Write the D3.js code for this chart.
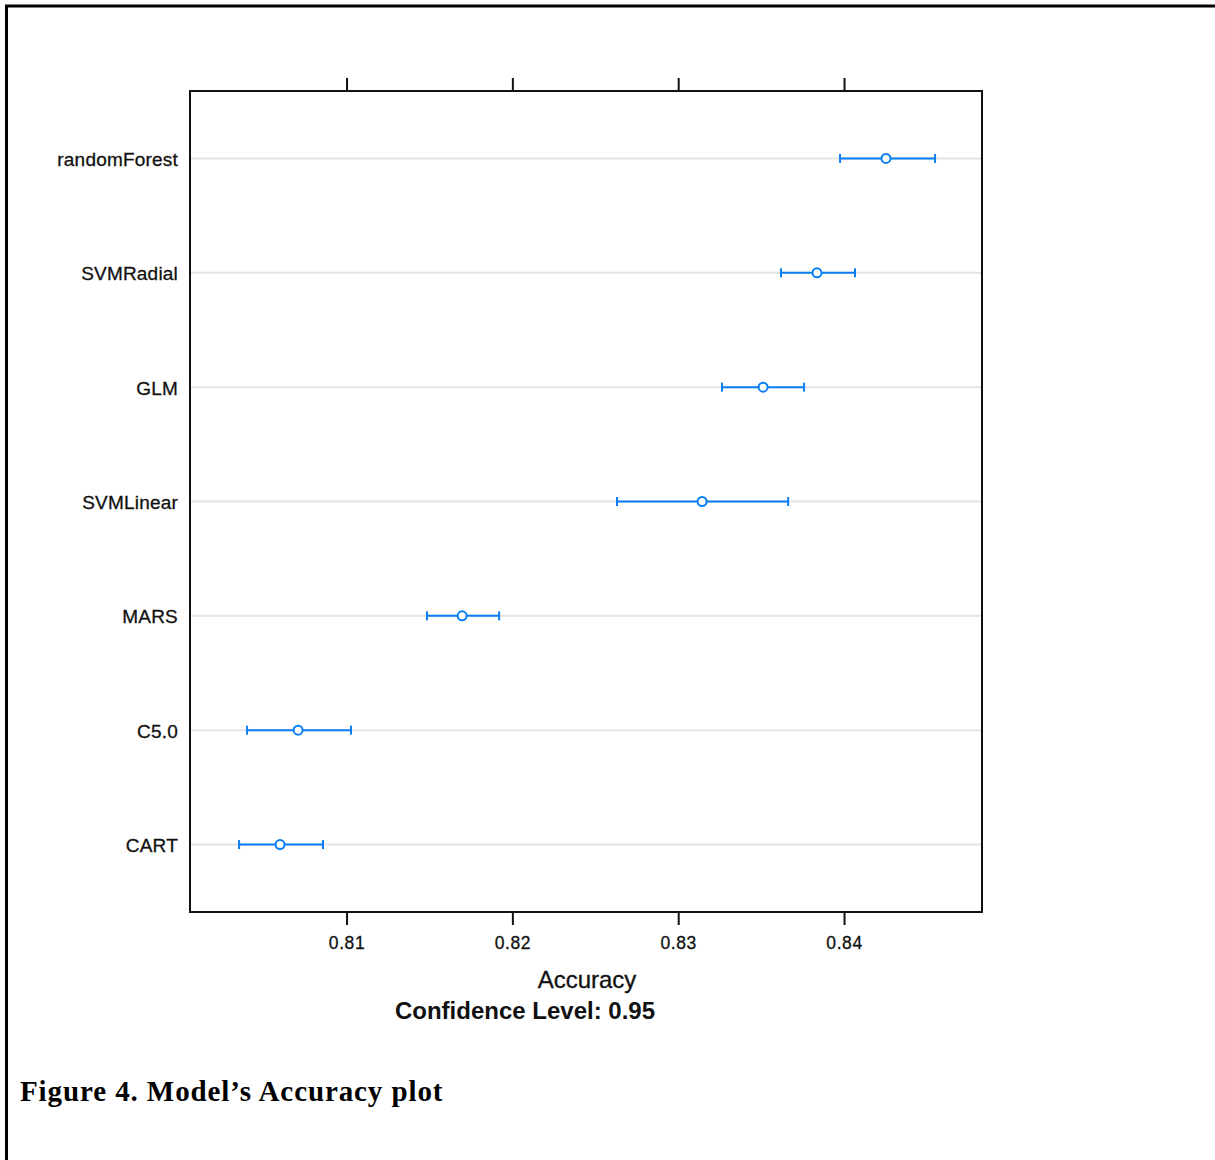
<!DOCTYPE html>
<html>
<head>
<meta charset="utf-8">
<script src="https://cdn.jsdelivr.net/npm/d3@7"></script>
<style>
    body { margin: 0; background: #fff; }
    svg { display: block; }
</style>
</head>
<body>
<svg id="chart" width="1215" height="1160"></svg>
<script>
// model names, top to bottom
const models = ["randomForest", "SVMRadial", "GLM", "SVMLinear", "MARS", "C5.0", "CART"];
// accuracy estimates and 95% confidence bounds
const accMean = [0.84253, 0.83837, 0.83512, 0.83144, 0.81697, 0.80708, 0.80599];
const accLower = [0.83976, 0.83620, 0.83264, 0.82631, 0.81485, 0.80400, 0.80352];
const accUpper = [0.84549, 0.84066, 0.83759, 0.83663, 0.81920, 0.81027, 0.80858];
const xTicks = [0.81, 0.82, 0.83, 0.84];

const svg = d3.select("#chart");
const blue = "#0a7ff5";
const sans = "Liberation Sans, Arial, sans-serif";

// outer figure frame (top + left only)
svg.append("line").attr("x1", 5).attr("x2", 1215).attr("y1", 6).attr("y2", 6)
    .attr("stroke", "#000").attr("stroke-width", 3);
svg.append("line").attr("x1", 6.5).attr("x2", 6.5).attr("y1", 5).attr("y2", 1160)
    .attr("stroke", "#000").attr("stroke-width", 3);

const panel = {left: 190, right: 982, top: 91, bottom: 912};

const x = d3.scaleLinear()
    .domain([0.80056, 0.84832])
    .range([panel.left, panel.right]);

const y = d3.scalePoint()
    .domain(models)
    .range([panel.top, panel.bottom])
    .padding(0.59);

// gridlines
svg.append("g")
    .selectAll("line")
    .data(models)
    .enter()
    .append("line")
    .attr("x1", panel.left)
    .attr("x2", panel.right)
    .attr("y1", d => y(d))
    .attr("y2", d => y(d))
    .attr("stroke", "#e4e4e4")
    .attr("stroke-width", 2);

// top and bottom axes (ticks outside, labels only at bottom)
const bottomAxis = d3.axisBottom(x).tickValues(xTicks).tickSize(13).tickPadding(12)
    .tickFormat(d3.format(".2f"));
const topAxis = d3.axisTop(x).tickValues(xTicks).tickSize(13).tickFormat("");

function styleAxis(g) {
    g.select(".domain").remove();
    g.selectAll(".tick line").attr("stroke", "#111").attr("stroke-width", 2);
    g.selectAll(".tick text")
        .attr("font-family", sans)
        .attr("font-size", 17.5)
        .attr("letter-spacing", 0.6)
        .attr("stroke", "#111")
        .attr("stroke-width", 0.3)
        .attr("fill", "#111");
}

svg.append("g").attr("transform", `translate(0,${panel.bottom})`).call(bottomAxis).call(styleAxis);
svg.append("g").attr("transform", `translate(0,${panel.top})`).call(topAxis).call(styleAxis);

// model labels
svg.append("g")
    .selectAll("text")
    .data(models)
    .enter()
    .append("text")
    .attr("x", 178)
    .attr("y", d => y(d) + 1)
    .attr("dy", "0.35em")
    .attr("text-anchor", "end")
    .attr("font-family", sans)
    .attr("font-size", 19)
    .attr("letter-spacing", 0.2)
    .attr("stroke", "#111")
    .attr("stroke-width", 0.3)
    .attr("fill", "#111")
    .text(d => d);

// error bars
const bars = svg.append("g");
models.forEach(function (m, i) {
    const yy = y(m);
    bars.append("line")
        .attr("x1", x(accLower[i])).attr("x2", x(accUpper[i]))
        .attr("y1", yy).attr("y2", yy)
        .attr("stroke", blue).attr("stroke-width", 2);
    [accLower[i], accUpper[i]].forEach(function (v) {
        bars.append("line")
            .attr("x1", x(v)).attr("x2", x(v))
            .attr("y1", yy - 4.5).attr("y2", yy + 4.5)
            .attr("stroke", blue).attr("stroke-width", 2);
    });
    bars.append("circle")
        .attr("cx", x(accMean[i]))
        .attr("cy", yy)
        .attr("r", 4.5)
        .attr("fill", "#fff")
        .attr("stroke", blue)
        .attr("stroke-width", 2);
});

// panel border
svg.append("rect")
    .attr("x", panel.left).attr("y", panel.top)
    .attr("width", panel.right - panel.left)
    .attr("height", panel.bottom - panel.top)
    .attr("fill", "none")
    .attr("stroke", "#111")
    .attr("stroke-width", 2);

// axis titles
svg.append("text")
    .attr("x", 587).attr("y", 988)
    .attr("text-anchor", "middle")
    .attr("font-family", sans)
    .attr("font-size", 24)
    .attr("stroke", "#111")
    .attr("stroke-width", 0.3)
    .attr("fill", "#111")
    .text("Accuracy");
svg.append("text")
    .attr("x", 525).attr("y", 1019)
    .attr("text-anchor", "middle")
    .attr("font-family", sans)
    .attr("font-weight", "bold")
    .attr("font-size", 24)
    .attr("fill", "#111")
    .text("Confidence Level: 0.95");

// figure caption
svg.append("text")
    .attr("x", 20).attr("y", 1101)
    .attr("font-family", "Liberation Serif, Times New Roman, serif")
    .attr("font-weight", "bold")
    .attr("font-size", 29)
    .attr("letter-spacing", 0.9)
    .attr("fill", "#000")
    .text("Figure 4. Model’s Accuracy plot");
</script>
</body>
</html>
